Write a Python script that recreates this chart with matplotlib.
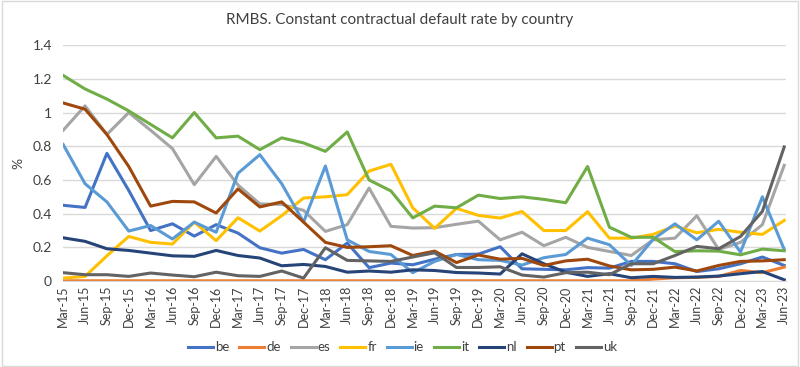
import matplotlib
matplotlib.use("Agg")
import matplotlib.pyplot as plt
import matplotlib.patches as mpatches
from matplotlib.ticker import FuncFormatter

plt.rcParams['font.family'] = ['Lato', 'DejaVu Sans']

quarters = ['Mar-15', 'Jun-15', 'Sep-15', 'Dec-15', 'Mar-16', 'Jun-16', 'Sep-16', 'Dec-16',
            'Mar-17', 'Jun-17', 'Sep-17', 'Dec-17', 'Mar-18', 'Jun-18', 'Sep-18', 'Dec-18',
            'Mar-19', 'Jun-19', 'Sep-19', 'Dec-19', 'Mar-20', 'Jun-20', 'Sep-20', 'Dec-20',
            'Mar-21', 'Jun-21', 'Sep-21', 'Dec-21', 'Mar-22', 'Jun-22', 'Sep-22', 'Dec-22',
            'Mar-23', 'Jun-23']

be = [0.45, 0.437, 0.758, 0.538, 0.30, 0.34, 0.267, 0.335, 0.285, 0.198, 0.166, 0.188,
      0.127, 0.226, 0.08, 0.107, 0.097, 0.13, 0.158, 0.16, 0.204, 0.073, 0.07, 0.067,
      0.08, 0.077, 0.117, 0.117, 0.103, 0.057, 0.073, 0.103, 0.143, 0.093]
de = [0.002, 0.002, 0.002, 0.002, 0.002, 0.002, 0.002, 0.002, 0.002, 0.002, 0.002, 0.002,
      0.002, 0.002, 0.002, 0.002, 0.002, 0.002, 0.002, 0.002, 0.002, 0.002, 0.002, 0.002,
      0.002, 0.002, 0.002, 0.012, 0.02, 0.022, 0.028, 0.063, 0.05, 0.083]
es = [0.895, 1.04, 0.87, 1.0, 0.895, 0.786, 0.572, 0.74, 0.57, 0.458, 0.455, 0.42,
      0.295, 0.335, 0.552, 0.325, 0.315, 0.317, 0.337, 0.356, 0.245, 0.29, 0.21, 0.26,
      0.2, 0.176, 0.152, 0.245, 0.255, 0.388, 0.188, 0.23, 0.335, 0.687]
fr = [0.018, 0.028, 0.15, 0.265, 0.23, 0.22, 0.35, 0.24, 0.376, 0.297, 0.388, 0.493,
      0.5, 0.513, 0.653, 0.693, 0.435, 0.313, 0.432, 0.39, 0.374, 0.413, 0.30, 0.30,
      0.412, 0.255, 0.255, 0.277, 0.327, 0.287, 0.307, 0.29, 0.277, 0.36]
ie = [0.81, 0.578, 0.47, 0.297, 0.33, 0.25, 0.35, 0.29, 0.64, 0.75, 0.578, 0.35,
      0.683, 0.245, 0.176, 0.158, 0.05, 0.117, 0.158, 0.127, 0.123, 0.095, 0.139, 0.158,
      0.255, 0.216, 0.093, 0.248, 0.34, 0.245, 0.355, 0.172, 0.50, 0.188]
it = [1.22, 1.14, 1.08, 1.01, 0.93, 0.85, 1.0, 0.85, 0.86, 0.78, 0.85, 0.82,
      0.77, 0.885, 0.60, 0.535, 0.375, 0.445, 0.435, 0.51, 0.49, 0.50, 0.485, 0.465,
      0.68, 0.32, 0.26, 0.26, 0.175, 0.18, 0.178, 0.156, 0.19, 0.18]
nl = [0.257, 0.236, 0.192, 0.182, 0.166, 0.15, 0.147, 0.182, 0.152, 0.137, 0.091, 0.099,
      0.087, 0.053, 0.06, 0.053, 0.067, 0.063, 0.051, 0.048, 0.042, 0.162, 0.103, 0.053,
      0.028, 0.044, 0.02, 0.028, 0.022, 0.024, 0.03, 0.044, 0.057, 0.008]
pt = [1.057, 1.02, 0.87, 0.68, 0.445, 0.473, 0.47, 0.404, 0.547, 0.44, 0.47, 0.35,
      0.23, 0.20, 0.204, 0.21, 0.152, 0.178, 0.11, 0.155, 0.13, 0.135, 0.093, 0.12,
      0.13, 0.09, 0.067, 0.07, 0.083, 0.06, 0.093, 0.117, 0.12, 0.127]
uk = [0.05, 0.038, 0.038, 0.028, 0.048, 0.036, 0.026, 0.053, 0.032, 0.028, 0.06, 0.018,
      0.198, 0.123, 0.12, 0.117, 0.143, 0.168, 0.081, 0.081, 0.085, 0.036, 0.024, 0.05,
      0.053, 0.038, 0.103, 0.103, 0.152, 0.206, 0.192, 0.265, 0.414, 0.796]

series = [('be', be, '#4472C4'), ('de', de, '#ED7D31'), ('es', es, '#A5A5A5'),
          ('fr', fr, '#FFC000'), ('ie', ie, '#5B9BD5'), ('it', it, '#70AD47'),
          ('nl', nl, '#264478'), ('pt', pt, '#9E480E'), ('uk', uk, '#636363')]

fig = plt.figure(figsize=(8, 3.67), dpi=100)
ax = fig.add_axes([0.079, 0.234, 0.904, 0.643])

x = list(range(len(quarters)))
for name, vals, col in series:
    ax.plot(x, vals, color=col, lw=2.2, label=name, solid_joinstyle='round')

ax.set_xlim(0, 33.1)
ax.set_ylim(0, 1.4)
ax.set_yticks([0, 0.2, 0.4, 0.6, 0.8, 1.0, 1.2, 1.4])
ax.yaxis.set_major_formatter(FuncFormatter(lambda v, p: '%g' % round(v, 1)))
ax.set_xticks(x)
ax.set_xticklabels(quarters, rotation=90, fontsize=9, color='#404040')
ax.tick_params(axis='y', labelsize=10, colors='#404040', length=0, pad=8)
ax.tick_params(axis='x', length=0, pad=3)
ax.grid(axis='y', color='#D9D9D9', lw=1)
ax.set_axisbelow(True)
for s in ['top', 'right', 'left']:
    ax.spines[s].set_visible(False)
ax.spines['bottom'].set_color('#D9D9D9')
ax.set_ylabel('%', fontsize=10, color='#404040', labelpad=6)

fig.suptitle('RMBS. Constant contractual default rate by country', fontsize=11,
             color='#404040', y=0.965)

fig.legend(loc='center', ncol=9, bbox_to_anchor=(0.503, 0.054), frameon=False,
           fontsize=9.5, handlelength=1.9, handletextpad=0.15, columnspacing=0.75,
           labelcolor='#404040')

fig.patches.append(mpatches.Rectangle((0.002, 0.003), 0.995, 0.993, transform=fig.transFigure,
                                      fill=False, edgecolor='#D9D9D9', lw=1))

fig.savefig('out.png', dpi=100)
